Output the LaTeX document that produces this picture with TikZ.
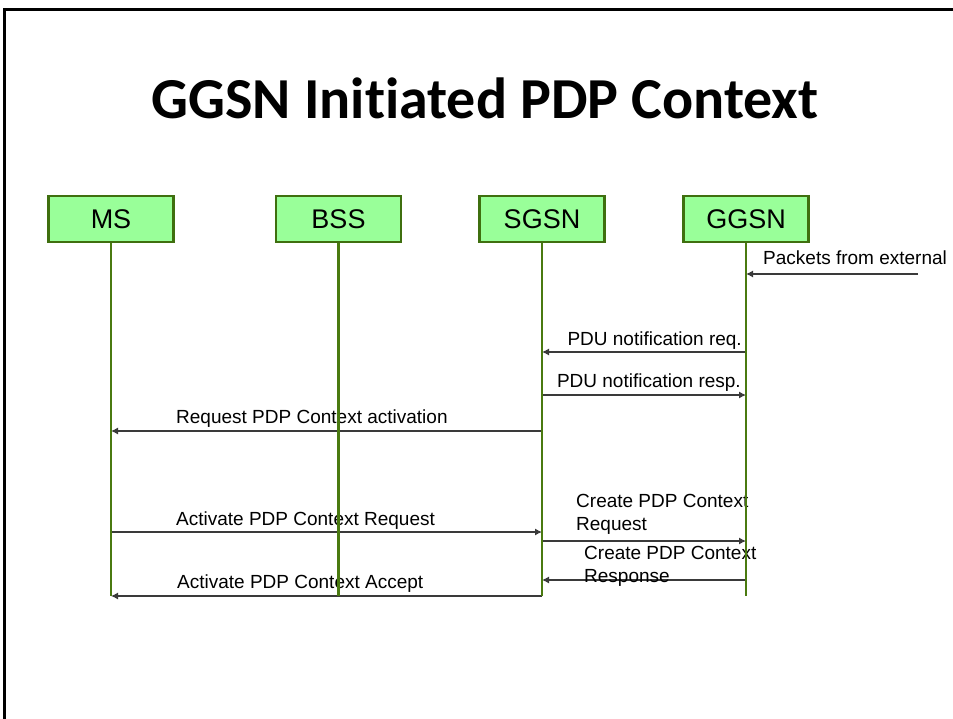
\documentclass[tikz,border=0pt]{standalone}
\usepackage{fontspec}
\setmainfont{Liberation Sans}
\newfontfamily\titlefont[Ligatures={NoCommon}]{Carlito}
\usetikzlibrary{arrows.meta}
\definecolor{boxfill}{HTML}{99FF99}
\definecolor{boxline}{HTML}{3F6F0F}
\definecolor{lifec}{HTML}{4A7A10}
\definecolor{msgc}{HTML}{3A3A3A}
\begin{document}
\begin{tikzpicture}[x=1pt,y=-1pt,
  ent/.style={draw=boxline,line width=2.6pt,fill=boxfill,minimum width=125pt,minimum height=46pt,font=\fontsize{27}{30}\selectfont,inner sep=0pt},
  lifeline/.style={draw=lifec,line width=2.6pt},
  msgarrow/.style={draw=msgc,line width=1.1pt,-{Latex[length=7pt,width=7pt]}},
  lbl/.style={font=\fontsize{19}{22.5}\selectfont,inner sep=0pt}]
\useasboundingbox (0,0) rectangle (953,719);
\fill[white] (0,0) rectangle (953,719);
% frame
\draw[line width=3pt] (4.2,719) -- (4.2,9.5) -- (953,9.5);
% title
\node[font=\titlefont\bfseries\fontsize{58}{70}\selectfont,anchor=base,inner sep=0pt] (title) at (485,119) {GGSN Initiated PDP Context};
% entities
\node[ent] (ms) at (111,219) {MS};
\node[ent] (bss) at (338.5,219) {BSS};
\node[ent] (sgsn) at (542,219) {SGSN};
\node[ent] (ggsn) at (746,219) {GGSN};
\coordinate (msend) at (111,596);
\coordinate (bssend) at (338.5,596);
\coordinate (sgsnend) at (542,596);
\coordinate (ggsnend) at (746,596);
% message coordinates
\coordinate (ext) at (918,274);
\coordinate (g1) at (746,274);
\coordinate (g2) at (746,352); \coordinate (s2) at (542,352);
\coordinate (g3) at (746,395); \coordinate (s3) at (542,395);
\coordinate (s4) at (542,431); \coordinate (m4) at (111,431);
\coordinate (m5) at (111,532); \coordinate (s5) at (542,532);
\coordinate (s6) at (542,541); \coordinate (g6) at (746,541);
\coordinate (g7) at (746,580); \coordinate (s7) at (542,580);
\coordinate (s8) at (542,596); \coordinate (m8) at (111,596);
% messages
\draw[msgarrow] (ext) -- (g1);
\draw[msgarrow] (g2) -- (s2);
\draw[msgarrow] (s3) -- (g3);
\draw[msgarrow] (s4) -- (m4);
\draw[msgarrow] (m5) -- (s5);
\draw[msgarrow] (s6) -- (g6);
\draw[msgarrow] (g7) -- (s7);
\draw[msgarrow] (s8) -- (m8);
% labels
\node[lbl,anchor=base west] (l1) at (763,265) {Packets from external};
\node[lbl,anchor=base east] (l2) at (742,345) {PDU notification req.};
\node[lbl,anchor=base east] (l3) at (741,387) {PDU notification resp.};
\node[lbl,anchor=base west] (l4) at (176,423) {Request PDP Context activation};
\node[lbl,anchor=base west] (l5) at (176,525) {Activate PDP Context Request};
\node[lbl,anchor=base west] (l6) at (177,588) {Activate PDP Context Accept};
\node[lbl,anchor=base west] (l7a) at (576,507) {Create PDP Context};
\node[lbl,anchor=base west] (l7b) at (576,530) {Request};
\node[lbl,anchor=base west] (l8a) at (584,559) {Create PDP Context};
\node[lbl,anchor=base west] (l8b) at (584,582) {Response};
% lifelines
\draw[lifeline] (ms.south) -- (msend);
\draw[lifeline] (bss.south) -- (bssend);
\draw[lifeline] (sgsn.south) -- (sgsnend);
\draw[lifeline] (ggsn.south) -- (ggsnend);
\end{tikzpicture}
\end{document}
